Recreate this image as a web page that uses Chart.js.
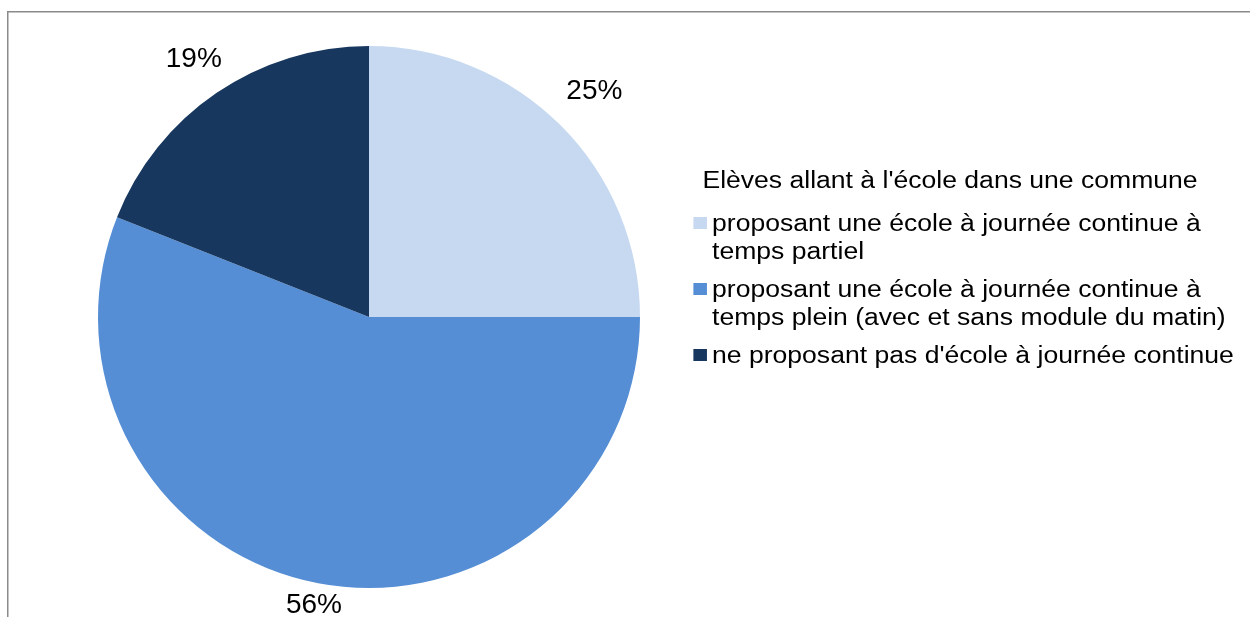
<!DOCTYPE html>
<html lang="fr">
<head>
<meta charset="utf-8">
<script src="https://cdn.jsdelivr.net/npm/chart.js@4"></script>
<style>
  html, body { margin: 0; padding: 0; background: #fff; }
  #wrap { position: relative; width: 1250px; height: 617px; overflow: hidden; }
  #pie { position: absolute; left: 0; top: 0; }
  #legend {
    position: absolute; left: 690px; top: 166px; width: 500px;
    transform: scaleX(1.13); transform-origin: 0 0;
    font-family: "Liberation Sans", Arial, sans-serif; font-size: 23.5px; color: #000;
  }
  #legend .title { margin-left: 11px; line-height: 28px; margin-bottom: 15px; }
  #legend ul { list-style: none; margin: 0; padding: 0; }
  #legend li { display: flex; align-items: flex-start; margin-bottom: 10px; line-height: 28px; }
  #legend .box { flex: none; width: 11.5px; height: 12px; margin: 8px 5px 0 3px; }
  #legend .txt { width: 472px; }
</style>
</head>
<body>
<div id="wrap">
  <canvas id="pie" width="1250" height="617"></canvas>
  <div id="legend"></div>
</div>
<script>
const legendTitle = "Elèves allant à l'école dans une commune";
const categories = [
  "proposant une école à journée continue à temps partiel",
  "proposant une école à journée continue à temps plein (avec et sans module du matin)",
  "ne proposant pas d'école à journée continue"
];
const shares = [25, 56, 19];
const sliceColors = ["#C6D9F1", "#558ED5", "#17375E"];

// grey frame along the top and left edges
const framePlugin = {
  id: 'frame',
  beforeDraw(chart) {
    const ctx = chart.ctx;
    ctx.save();
    ctx.strokeStyle = '#8a8a8a';
    ctx.lineWidth = 1.5;
    ctx.beginPath();
    ctx.moveTo(7.75, chart.height);
    ctx.lineTo(7.75, 11.75);
    ctx.lineTo(chart.width, 11.75);
    ctx.stroke();
    ctx.restore();
  }
};

// percentage labels just outside each slice
const outsideLabels = {
  id: 'outsideLabels',
  afterDatasetsDraw(chart, args, opts) {
    const ctx = chart.ctx;
    const meta = chart.getDatasetMeta(0);
    const values = chart.data.datasets[0].data;
    ctx.save();
    ctx.font = opts.font;
    ctx.fillStyle = '#000';
    ctx.textAlign = 'center';
    ctx.textBaseline = 'middle';
    meta.data.forEach((arc, i) => {
      const p = arc.getProps(['x', 'y', 'startAngle', 'endAngle', 'outerRadius'], true);
      const mid = (p.startAngle + p.endAngle) / 2;
      const text = values[i] + '%';
      const w = ctx.measureText(text).width;
      const cx = Math.cos(mid), cy = Math.sin(mid);
      // push wide labels further out when they sit beside the pie
      const dist = p.outerRadius + opts.gap + 0.85 * w * Math.abs(cx);
      ctx.fillText(text, p.x + cx * dist, p.y + cy * dist);
    });
    ctx.restore();
  }
};

const chart = new Chart(document.getElementById('pie'), {
  type: 'pie',
  data: {
    labels: categories,
    datasets: [{
      data: shares,
      backgroundColor: sliceColors,
      borderWidth: 0
    }]
  },
  options: {
    responsive: false,
    animation: false,
    layout: { padding: { left: 98, right: 610, top: 46, bottom: 29 } },
    plugins: {
      legend: { display: false },
      tooltip: { enabled: false },
      outsideLabels: { font: '28px "Liberation Sans", Arial, sans-serif', gap: 14 }
    }
  },
  plugins: [framePlugin, outsideLabels]
});

// legend built from the chart's own labels and colours
function build_legend(chart) {
  const el = document.getElementById('legend');
  const ds = chart.data.datasets[0];
  let html = `<div class="title">${legendTitle}</div><ul>`;
  chart.data.labels.forEach((label, i) => {
    html += `<li><span class="box" style="background:${ds.backgroundColor[i]}"></span><span class="txt">${label}</span></li>`;
  });
  html += '</ul>';
  el.innerHTML = html;
}
build_legend(chart);
</script>
</body>
</html>
